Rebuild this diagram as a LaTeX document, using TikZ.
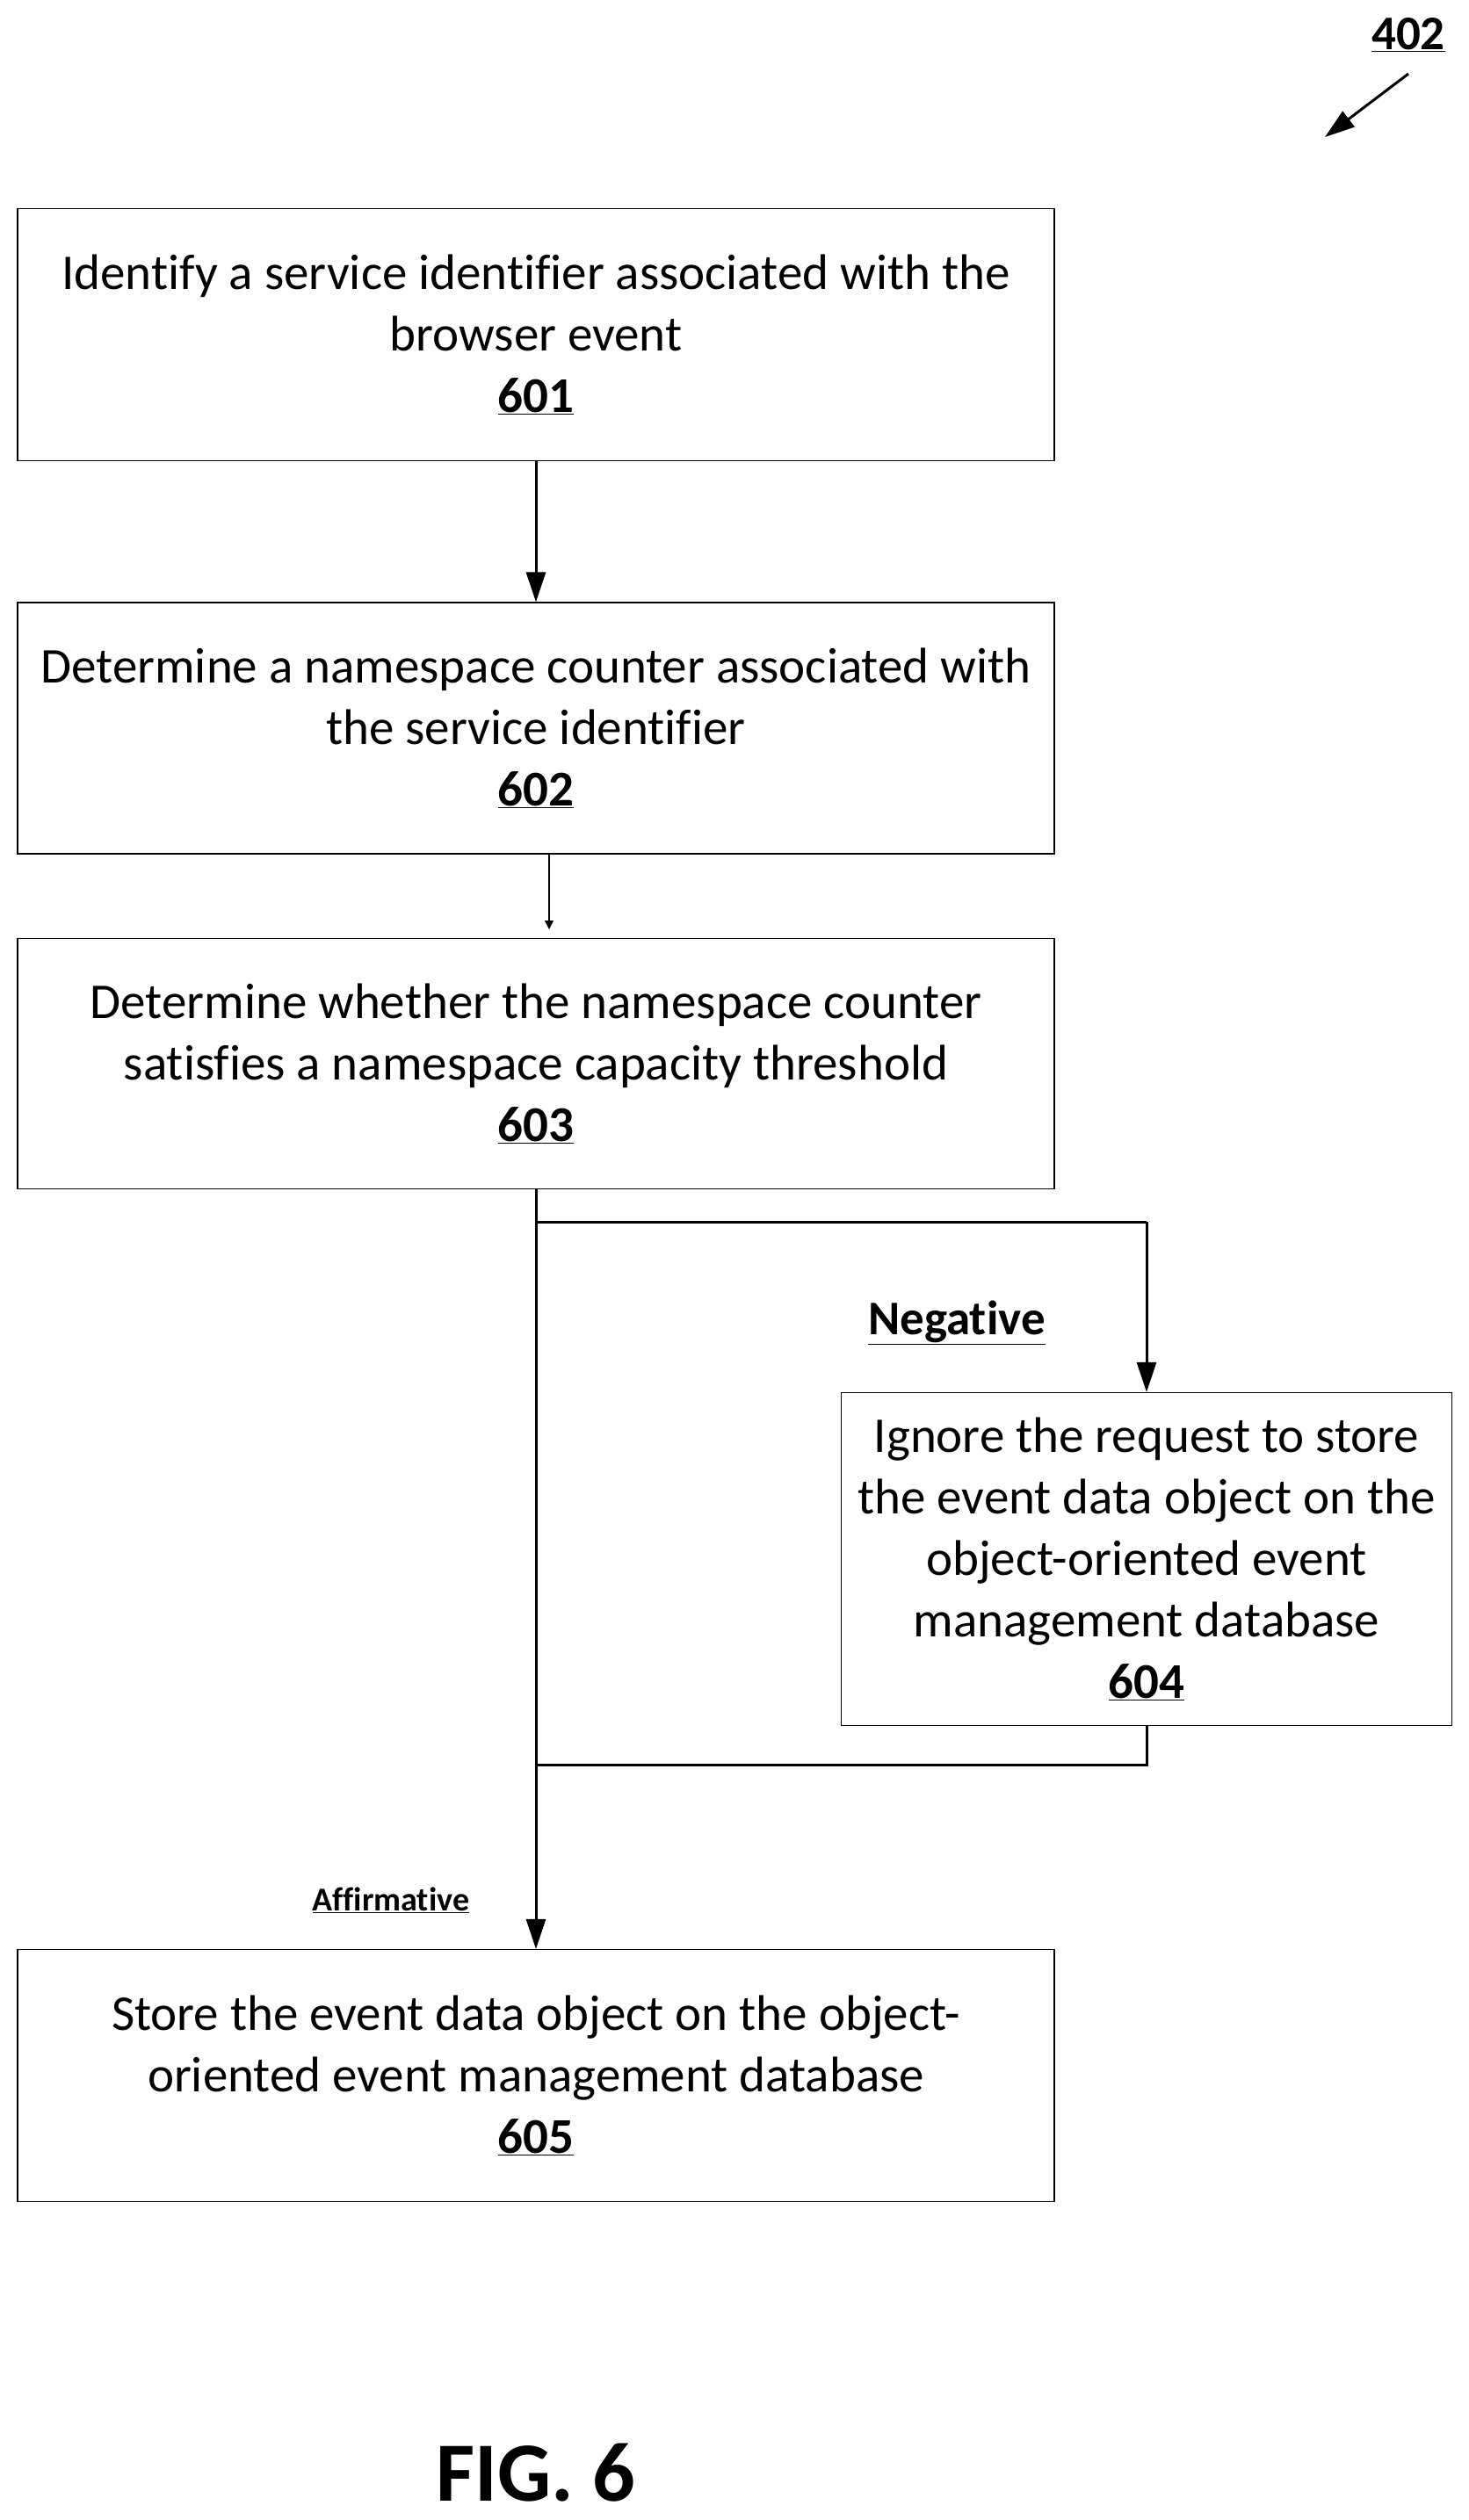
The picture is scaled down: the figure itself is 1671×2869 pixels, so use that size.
\documentclass[tikz,border=0pt]{standalone}
\usepackage{fontspec}
\setmainfont{Carlito}[Ligatures=NoCommon]
\usetikzlibrary{arrows.meta}
\begin{document}
\begin{tikzpicture}[x=1pt,y=-1pt,
  box/.style={draw,line width=1.2pt,align=center,inner sep=0pt,font=\fontsize{57}{70}\selectfont},
  conn/.style={line width=3pt},
  arr/.style={conn,-{Triangle[length=34pt,width=22pt]}}]
\useasboundingbox (0,0) rectangle (1671,2869);
\node[box,minimum width=1180,minimum height=287] (b1) at (610,381) {Identify a service identifier associated with the\\browser event\\\textbf{\underline{601}}};
\node[box,minimum width=1180,minimum height=286] (b2) at (610,829) {Determine a namespace counter associated with\\the service identifier\\\textbf{\underline{602}}};
\node[box,minimum width=1180,minimum height=285] (b3) at (610,1211) {Determine whether the namespace counter\\satisfies a namespace capacity threshold\\\textbf{\underline{603}}};
\node[box,minimum width=695,minimum height=379] (b4) at (1305,1775) {Ignore the request to store\\the event data object on the\\object-oriented event\\management database\\\textbf{\underline{604}}};
\node[box,minimum width=1180,minimum height=287] (b5) at (610,2363) {Store the event data object on the object-\\oriented event management database\\\textbf{\underline{605}}};
\draw[arr] (b1) -- (b2);
\coordinate (m1) at (625,1058);
\draw[line width=1.5pt,-{Triangle[length=10pt,width=10pt]}] (625,972) -- (m1);
\coordinate (s) at (610,1391);
\coordinate (t) at (1305,1391);
\coordinate (r) at (1305,2009);
\coordinate (q) at (610,2009);
\draw[conn] (b3.south) -- (s) -- (t);
\draw[arr] (t) -- (b4.north);
\draw[conn] (b4.south) -- (r) -- (q);
\draw[arr] (s) -- (b5.north);
\node[font=\fontsize{55}{60}\selectfont\bfseries] (neg) at (1089,1506) {\underline{Negative}};
\node[font=\fontsize{38}{40}\selectfont\bfseries] (aff) at (445,2163) {\underline{Affirmative}};
\node[font=\fontsize{55}{60}\selectfont\bfseries] (n402) at (1603,40) {\underline{402}};
\coordinate (a1) at (1603,84);
\coordinate (a2) at (1508,156);
\draw[arr] (a1) -- (a2);
\node[font=\fontsize{96}{100}\selectfont\bfseries] (fig) at (610,2815) {FIG. 6};
\end{tikzpicture}
\end{document}
